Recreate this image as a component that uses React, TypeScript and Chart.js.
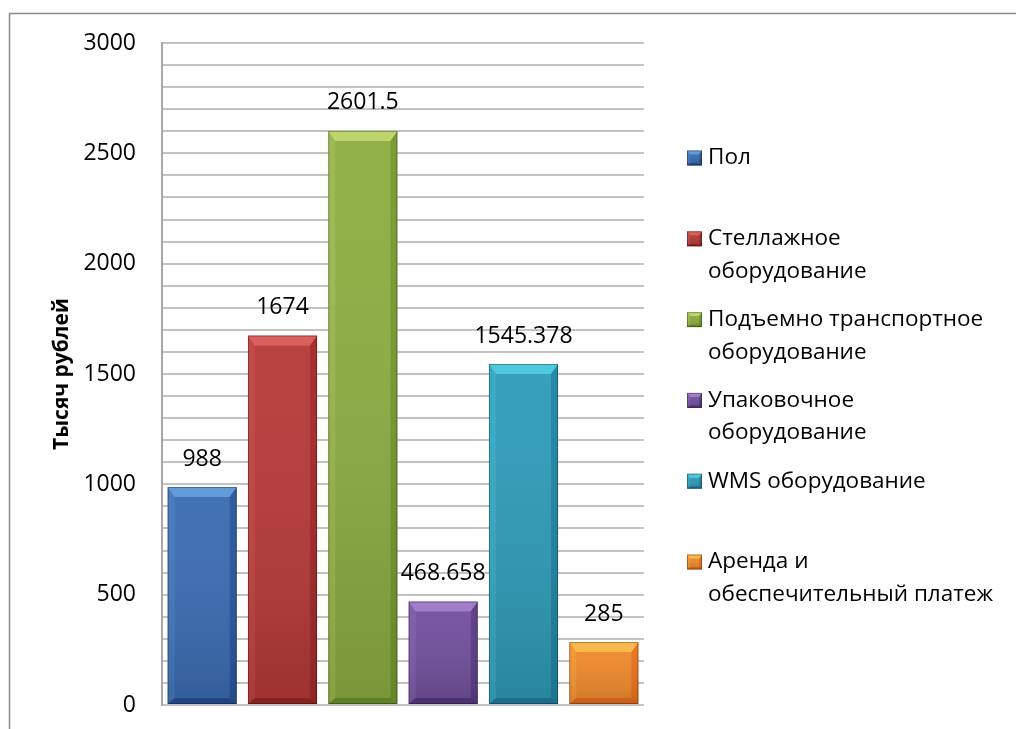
import { useEffect, useRef } from "react";
import { Chart, registerables } from "chart.js";

Chart.register(...registerables);

// Cost items (each item's legend text is split into lines)
const categories: string[][] = [
  ["Пол"],
  ["Стеллажное", "оборудование"],
  ["Подъемно транспортное", "оборудование"],
  ["Упаковочное", "оборудование"],
  ["WMS оборудование"],
  ["Аренда и", "обеспечительный платеж"],
];

// Amounts, thousand roubles
const values: number[] = [988, 1674, 2601.5, 468.658, 1545.378, 285];

const barColors: string[] = ["#3A6CB2", "#B63A38", "#8DAE41", "#71509D", "#2E9BB8", "#F0892B"];

const yAxisTitle = "Тысяч рублей";
const yMin = 0;
const yMax = 3000;
const yMinorStep = 100;
const yLabelStep = 500;

const FONT = '"Open Sans", "DejaVu Sans", sans-serif';

type Pt = [number, number];

function poly(ctx: CanvasRenderingContext2D, pts: Pt[], fill: string, alpha: number, op: GlobalCompositeOperation) {
  ctx.save();
  ctx.globalAlpha = alpha;
  ctx.globalCompositeOperation = op;
  ctx.beginPath();
  ctx.moveTo(pts[0][0], pts[0][1]);
  for (let i = 1; i < pts.length; i++) ctx.lineTo(pts[i][0], pts[i][1]);
  ctx.closePath();
  ctx.fillStyle = fill;
  ctx.fill();
  ctx.restore();
}

// Bevelled block: lighter top face, darker right and bottom faces
function bevel(ctx: CanvasRenderingContext2D, color: string, l: number, t: number, r: number, b: number, sx: number, sy: number) {
  const g = ctx.createLinearGradient(0, t, 0, b);
  g.addColorStop(0, "rgba(255,255,255,0.04)");
  g.addColorStop(1, "rgba(0,0,0,0.14)");
  ctx.fillStyle = g;
  ctx.fillRect(l, t, r - l, b - t);
  const by = b - sy * 0.6;
  poly(ctx, [[l, t], [r, t], [r - sx, t + sy], [l + sx, t + sy]], color, 0.7, "screen");
  poly(ctx, [[l, t], [l + sx, t + sy], [l + sx, by], [l, b]], color, 0.18, "screen");
  poly(ctx, [[r, t], [r, b], [r - sx, by], [r - sx, t + sy]], color, 0.35, "multiply");
  poly(ctx, [[l, b], [l + sx, by], [r - sx, by], [r, b]], color, 0.45, "multiply");
  ctx.strokeStyle = "rgba(0,0,0,0.3)";
  ctx.lineWidth = 1;
  ctx.strokeRect(l + 0.5, t + 0.5, r - l - 1, b - t - 1);
}

const framePlugin = {
  id: "frame",
  beforeDraw(chart: any) {
    const { ctx, width, height } = chart;
    ctx.save();
    ctx.fillStyle = "#ffffff";
    ctx.fillRect(0, 0, width, height);
    ctx.strokeStyle = "#8C8C8C";
    ctx.lineWidth = 1.5;
    ctx.beginPath();
    ctx.moveTo(9.5, height);
    ctx.lineTo(9.5, 13.5);
    ctx.lineTo(width, 13.5);
    ctx.stroke();
    ctx.restore();
  },
};

const barDecorPlugin = {
  id: "barDecor",
  afterDatasetsDraw(chart: any) {
    const { ctx } = chart;
    const meta = chart.getDatasetMeta(0);
    ctx.save();
    meta.data.forEach((bar: any, i: number) => {
      const { x, y, base, width } = bar.getProps(["x", "y", "base", "width"], true);
      const l = x - width / 2;
      const r = x + width / 2;
      const h = base - y;
      bevel(ctx, barColors[i], l, y, r, base, Math.min(7, h / 3), Math.min(10, h / 3));
      // value label above the bar
      ctx.fillStyle = "#000";
      ctx.font = `23px ${FONT}`;
      ctx.textAlign = "center";
      ctx.textBaseline = "middle";
      ctx.fillText(String(values[i]), x, y - 28);
    });
    ctx.restore();
  },
};

const legendPlugin = {
  id: "sideLegend",
  afterDraw(chart: any) {
    const { ctx } = chart;
    ctx.save();
    const boxX = 687;
    const textX = 708;
    const firstY = 158;
    const step = 80.8;
    const lineH = 32.5;
    categories.forEach((lines, i) => {
      const yc = firstY + i * step;
      ctx.fillStyle = barColors[i];
      ctx.fillRect(boxX, yc - 7.5, 15, 15);
      bevel(ctx, barColors[i], boxX, yc - 7.5, boxX + 15, yc + 7.5, 3, 4);
      ctx.font = `22.5px ${FONT}`;
      ctx.textAlign = "left";
      ctx.textBaseline = "middle";
      ctx.fillStyle = "#000";
      lines.forEach((ln, j) => ctx.fillText(ln, textX, yc + j * lineH));
    });
    ctx.restore();
  },
};

export default function App() {
  const canvasRef = useRef<HTMLCanvasElement | null>(null);

  useEffect(() => {
    if (!canvasRef.current) return;
    Chart.defaults.font.family = FONT;
    const chart = new Chart(canvasRef.current, {
      type: "bar",
      data: {
        labels: categories.map((c) => c.join(" ")),
        datasets: [
          {
            data: values,
            backgroundColor: barColors,
            borderWidth: 0,
            barPercentage: 0.86,
            categoryPercentage: 1,
          },
        ],
      },
      options: {
        animation: false,
        responsive: true,
        maintainAspectRatio: false,
        layout: { padding: { left: 0, top: 43, right: 372, bottom: 24 } },
        plugins: {
          legend: { display: false },
          tooltip: { enabled: false },
        },
        scales: {
          x: {
            grid: { display: false, drawTicks: false },
            border: { display: false },
            ticks: { display: false },
            afterFit: (scale: any) => {
              scale.height = 0;
            },
          },
          y: {
            min: yMin,
            max: yMax,
            grid: { color: "#C2C2C2", lineWidth: 2, drawTicks: false },
            border: { display: true, color: "#A8A8A8", width: 2 },
            ticks: {
              stepSize: yMinorStep,
              autoSkip: false,
              padding: 26,
              color: "#000",
              font: { size: 23, family: FONT },
              callback: (v: any) => (Number(v) % yLabelStep === 0 ? String(v) : ""),
            },
            title: {
              display: true,
              text: yAxisTitle,
              color: "#000",
              font: { size: 21, weight: "bold", family: FONT },
              padding: { top: 49.4, bottom: 0 },
            },
            afterFit: (scale: any) => {
              scale.width = 162;
              scale.paddingTop = 0;
              scale.paddingBottom = 0;
            },
          },
        },
      },
      plugins: [framePlugin, barDecorPlugin, legendPlugin],
    });
    return () => chart.destroy();
  }, []);

  return (
    <div style={{ position: "absolute", left: 0, top: 0, width: 1016, height: 729 }}>
      <canvas ref={canvasRef} />
    </div>
  );
}
